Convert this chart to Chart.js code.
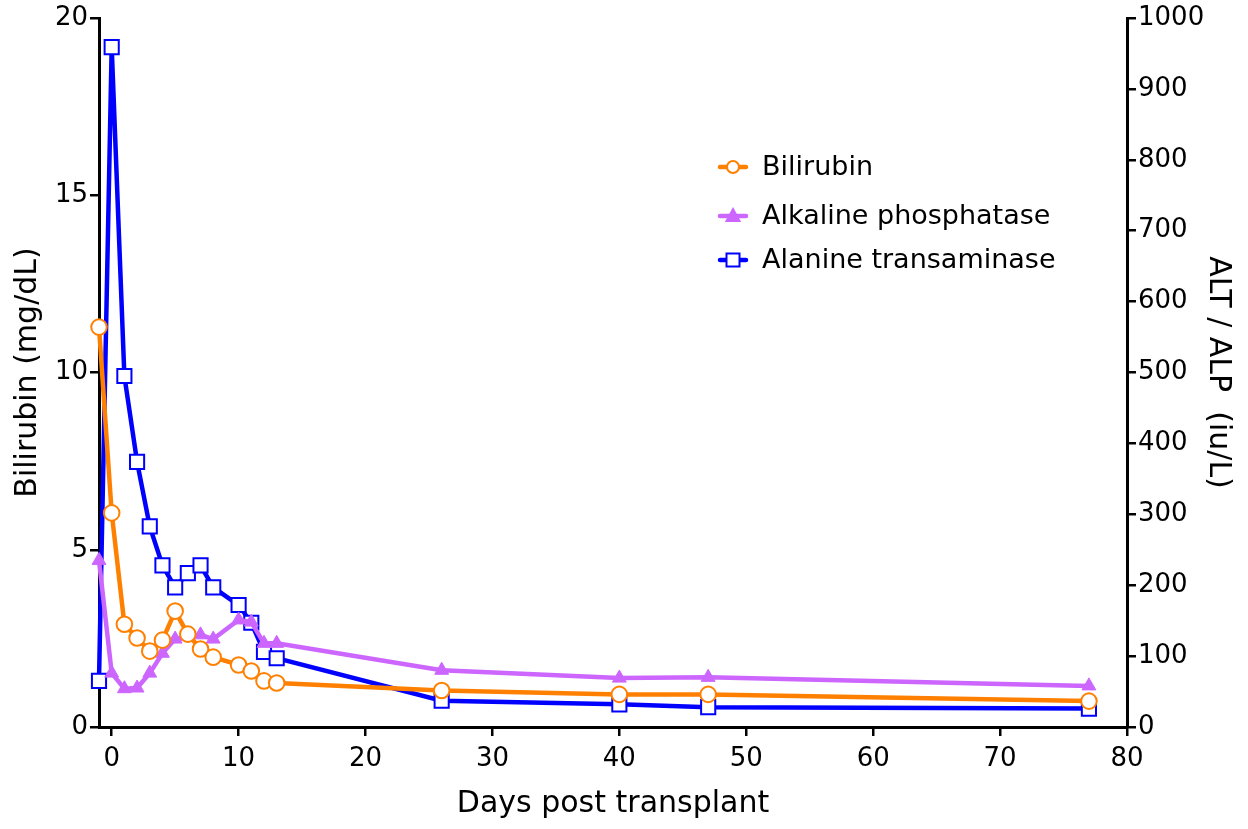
<!DOCTYPE html>
<html>
<head>
<meta charset="utf-8">
<script src="https://cdn.jsdelivr.net/npm/chart.js@4.4.1/dist/chart.umd.min.js"></script>
<style>
  html, body { margin: 0; padding: 0; background: #fff; }
  #wrap { width: 1248px; height: 829px; }
</style>
</head>
<body>
<div id="wrap"><canvas id="myChart" width="1248" height="829"></canvas></div>
<script>
const days = [-1, 0, 1, 2, 3, 4, 5, 6, 7, 8, 10, 11, 12, 13, 26, 40, 47, 77];
const bilirubin = [11.28, 6.04, 2.9, 2.51, 2.14, 2.45, 3.27, 2.62, 2.2, 1.97, 1.75, 1.58, 1.3, 1.24, 1.03, 0.92, 0.92, 0.73];
const alp = [235, 76, 54, 55, 76, 104, 124, 128, 130, 124, 151, 148, 118, 118, 80, 69, 70, 58];
const alt = [65, 959, 495, 374, 283, 228, 197, 217, 228, 197, 172, 147, 106, 97, 37, 32, 28, 26];
const xTicks = [0, 10, 20, 30, 40, 50, 60, 70, 80];
const leftTicks = [0, 5, 10, 15, 20];
const rightTicks = [0, 100, 200, 300, 400, 500, 600, 700, 800, 900, 1000];

const FONT = "'DejaVu Sans', Verdana, sans-serif";

function pts(ys) {
  return days.map((d, i) => ({ x: d, y: ys[i] }));
}

// legend drawn inside the plot, top right
const insideLegend = {
  id: "insideLegend",
  afterDatasetsDraw(chart) {
    const c = chart.ctx;
    const rows = [167, 216, 260];
    const mx = 733;
    chart.data.datasets.forEach((ds, i) => {
      const y = rows[i];
      c.save();
      c.strokeStyle = ds.borderColor;
      c.lineWidth = 4.5;
      c.lineCap = "round";
      c.beginPath();
      c.moveTo(720, y);
      c.lineTo(746, y);
      c.stroke();
      c.fillStyle = ds.pointBackgroundColor;
      c.strokeStyle = ds.borderColor;
      c.lineWidth = 2;
      c.beginPath();
      if (ds.pointStyle === "circle") {
        c.arc(mx, y, 6, 0, Math.PI * 2);
      } else if (ds.pointStyle === "rect") {
        c.rect(mx - 6.5, y - 6.5, 13, 13);
      } else {
        c.moveTo(mx, y - 7);
        c.lineTo(mx + 6.5, y + 5);
        c.lineTo(mx - 6.5, y + 5);
        c.closePath();
      }
      c.fill();
      c.stroke();
      c.fillStyle = "#000";
      c.font = "27px " + FONT;
      c.textBaseline = "middle";
      c.textAlign = "left";
      c.fillText(ds.label, 762, y + 1);
      c.restore();
    });
  },
};

const ctx = document.getElementById("myChart").getContext("2d");

const axisBorder = { display: true, color: "#000", width: 3 };
const axisGrid = { drawOnChartArea: false, drawTicks: true, tickLength: 9, color: "#000", lineWidth: 2.5 };

new Chart(ctx, {
  type: "line",
  data: {
    datasets: [
      {
        label: "Bilirubin",
        data: pts(bilirubin),
        yAxisID: "y",
        borderColor: "#FF8000",
        backgroundColor: "#FF8000",
        pointBackgroundColor: "#fff",
        pointBorderColor: "#FF8000",
        pointStyle: "circle",
        pointRadius: 7.8,
        pointBorderWidth: 2,
        borderWidth: 4.5,
        order: 0,
      },
      {
        label: "Alkaline phosphatase",
        data: pts(alp),
        yAxisID: "y1",
        borderColor: "#CC66FF",
        backgroundColor: "#CC66FF",
        pointBackgroundColor: "#CC66FF",
        pointBorderColor: "#CC66FF",
        pointStyle: "triangle",
        pointRadius: 8,
        pointBorderWidth: 1,
        borderWidth: 4.5,
        order: 1,
      },
      {
        label: "Alanine transaminase",
        data: pts(alt),
        yAxisID: "y1",
        borderColor: "#0000FF",
        backgroundColor: "#0000FF",
        pointBackgroundColor: "#fff",
        pointBorderColor: "#0000FF",
        pointStyle: "rect",
        pointRadius: 10,
        pointBorderWidth: 2,
        borderWidth: 4.5,
        order: 2,
      },
    ],
  },
  options: {
    responsive: false,
    animation: false,
    clip: false,
    layout: { padding: { top: 18, left: 0, right: 0, bottom: 0 } },
    scales: {
      x: {
        type: "linear",
        min: -1,
        max: 80,
        afterBuildTicks: (axis) => {
          axis.ticks = xTicks.map((v) => ({ value: v }));
        },
        afterFit: (axis) => {
          axis.height = 102;
        },
        border: axisBorder,
        grid: axisGrid,
        ticks: { color: "#000", font: { family: FONT, size: 26 }, padding: 8, maxRotation: 0 },
        title: { display: true, text: "Days post transplant", color: "#000", font: { family: FONT, size: 30 }, padding: { top: 0, bottom: 7 } },
      },
      y: {
        position: "left",
        min: 0,
        max: 20,
        afterBuildTicks: (axis) => {
          axis.ticks = leftTicks.map((v) => ({ value: v }));
        },
        afterFit: (axis) => {
          axis.width = 99;
        },
        border: axisBorder,
        grid: axisGrid,
        ticks: { color: "#000", font: { family: FONT, size: 26 }, padding: 2 },
        title: { display: true, text: "Bilirubin (mg/dL)", color: "#000", font: { family: FONT, size: 30 }, padding: { top: 10, bottom: 0 } },
      },
      y1: {
        position: "right",
        min: 0,
        max: 1000,
        afterBuildTicks: (axis) => {
          axis.ticks = rightTicks.map((v) => ({ value: v }));
        },
        afterFit: (axis) => {
          axis.width = 121;
        },
        border: axisBorder,
        grid: axisGrid,
        ticks: { color: "#000", font: { family: FONT, size: 26 }, padding: 2, callback: (v) => String(v) },
        title: { display: true, text: "ALT / ALP  (iu/L)", color: "#000", font: { family: FONT, size: 30 }, padding: { top: 12, bottom: 0 } },
      },
    },
    plugins: {
      legend: { display: false },
      tooltip: { enabled: false },
    },
  },
  plugins: [insideLegend],
});
</script>
</body>
</html>
